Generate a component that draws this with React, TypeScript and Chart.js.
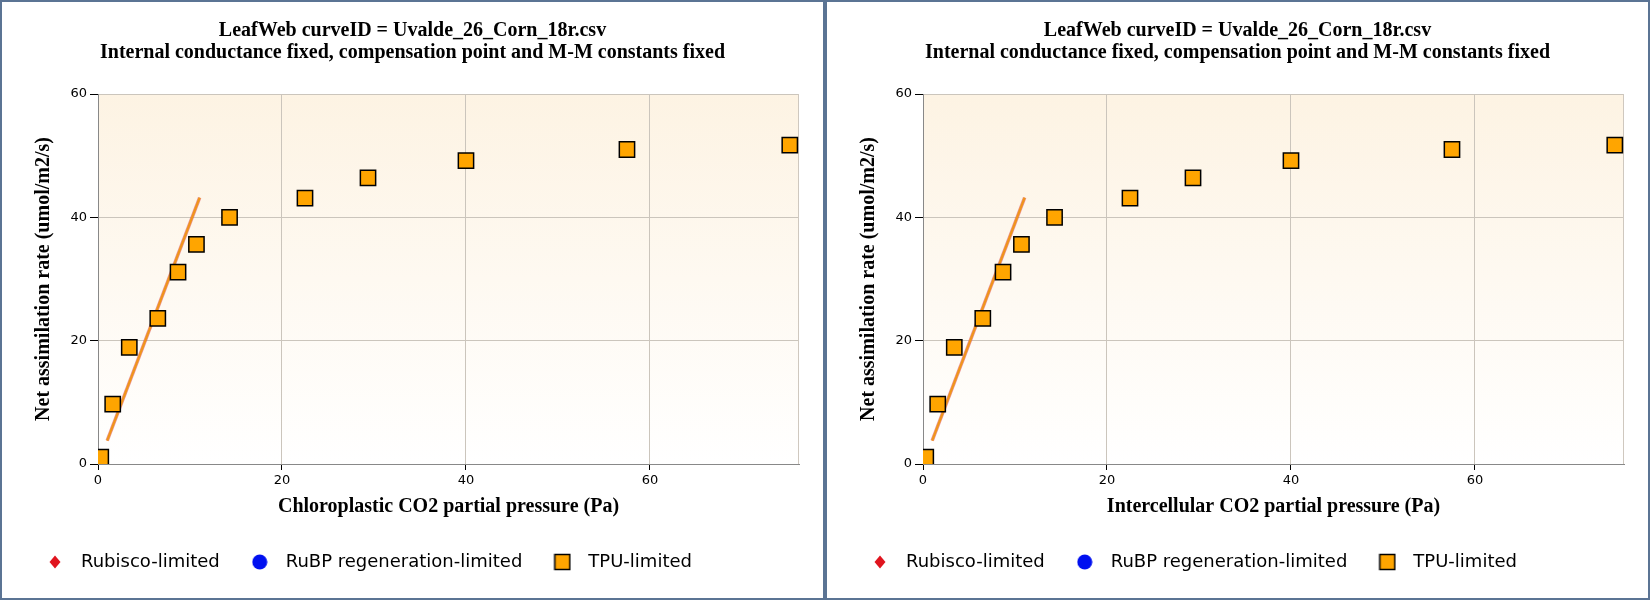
import React, { useEffect, useRef } from 'react';
import { Chart, registerables, ChartConfiguration, Plugin } from 'chart.js';

Chart.register(...registerables);

// measured points (Ci / Cc in Pa, A in umol/m2/s)
const pressures = [0.3, 1.6, 3.4, 6.5, 8.7, 10.7, 14.3, 22.5, 29.35, 40.0, 57.5, 75.2];
const assimilation = [1.1, 9.7, 18.9, 23.6, 31.1, 35.6, 40.0, 43.1, 46.4, 49.2, 51.0, 51.7];

// fitted limitation line end points
const fitX = [1.0, 11.05];
const fitY = [3.8, 43.2];

const legendNames = ['Rubisco-limited', 'RuBP regeneration-limited', 'TPU-limited'];
const titleLines = [
  'LeafWeb curveID = Uvalde_26_Corn_18r.csv',
  'Internal conductance fixed, compensation point and M-M constants fixed',
];
const yTitle = 'Net assimilation rate (umol/m2/s)';
const xTitles = ['Chloroplastic CO2 partial pressure (Pa)', 'Intercellular CO2 partial pressure (Pa)'];

const SERIF = "'Liberation Serif', 'Times New Roman', serif";
const SANS = "'DejaVu Sans', Verdana, sans-serif";

function makeMarker(kind: 'diamond' | 'circle' | 'square'): HTMLCanvasElement {
  const c = document.createElement('canvas');
  const s = kind === 'diamond' ? 14 : kind === 'circle' ? 16 : 18;
  c.width = s;
  c.height = s;
  const ctx = c.getContext('2d')!;
  if (kind === 'diamond') {
    ctx.fillStyle = '#e0141e';
    ctx.beginPath();
    ctx.moveTo(7, 0.5);
    ctx.lineTo(12.5, 7);
    ctx.lineTo(7, 13.5);
    ctx.lineTo(1.5, 7);
    ctx.closePath();
    ctx.fill();
  } else if (kind === 'circle') {
    ctx.fillStyle = '#0010f0';
    ctx.beginPath();
    ctx.arc(8, 8, 7.5, 0, Math.PI * 2);
    ctx.fill();
  } else {
    ctx.fillStyle = '#ffa500';
    ctx.strokeStyle = '#000';
    ctx.lineWidth = 1.5;
    ctx.fillRect(1.5, 1.5, 15, 15);
    ctx.strokeRect(1.5, 1.5, 15, 15);
  }
  return c;
}

const plotBackground: Plugin = {
  id: 'plotBackground',
  beforeDraw(chart) {
    const { ctx, chartArea } = chart;
    if (!chartArea) return;
    const g = ctx.createLinearGradient(0, chartArea.top, 0, chartArea.bottom);
    g.addColorStop(0, '#fdf3e3');
    g.addColorStop(1, '#ffffff');
    ctx.save();
    ctx.fillStyle = g;
    ctx.fillRect(chartArea.left, chartArea.top, chartArea.right - chartArea.left, chartArea.bottom - chartArea.top);
    ctx.restore();
  },
  beforeDatasetsDraw(chart) {
    const { ctx, chartArea } = chart;
    ctx.save();
    ctx.strokeStyle = '#cfc8bf';
    ctx.lineWidth = 1;
    ctx.beginPath();
    ctx.moveTo(chartArea.right - 0.5, chartArea.top);
    ctx.lineTo(chartArea.right - 0.5, chartArea.bottom);
    ctx.stroke();
    ctx.restore();
  },
};

// title centred on the whole canvas, legend starts a bit in from the edge
const nudge: Plugin = {
  id: 'nudge',
  afterLayout(chart: any) {
    if (chart.titleBlock) chart.titleBlock.right = chart.width;
    if (chart.legend) chart.legend.left += 13;
  },
};

const Panel: React.FC<{ xTitle: string }> = ({ xTitle }) => {
  const canvasRef = useRef<HTMLCanvasElement>(null);

  useEffect(() => {
    if (!canvasRef.current) return;
    const markers = [makeMarker('diamond'), makeMarker('circle'), makeMarker('square')];
    const points = pressures.map((x, i) => ({ x, y: assimilation[i] }));
    const fit = fitX.map((x, i) => ({ x, y: fitY[i] }));

    const config: ChartConfiguration<'scatter'> = {
      type: 'scatter',
      data: {
        datasets: [
          { label: legendNames[0], data: [], pointStyle: 'rectRot', backgroundColor: '#e0141e', order: 0 },
          { label: legendNames[1], data: [], pointStyle: 'circle', backgroundColor: '#0010f0', order: 0 },
          {
            label: legendNames[2],
            data: points,
            pointStyle: 'rect',
            pointRadius: 10.8,
            pointBackgroundColor: '#ffa500',
            pointBorderColor: '#000',
            pointBorderWidth: 1.5,
            order: 0,
          },
          {
            label: 'fit-under',
            data: fit,
            showLine: true,
            borderColor: 'rgba(220,80,80,0.6)',
            borderWidth: 3.5,
            pointRadius: 0,
            order: 2,
          },
          {
            label: 'fit',
            data: fit,
            showLine: true,
            borderColor: '#f0951a',
            borderWidth: 2.2,
            pointRadius: 0,
            order: 1,
          },
        ],
      },
      options: {
        responsive: false,
        animation: false,
        events: [],
        layout: { padding: { left: 0, right: 24, top: 0, bottom: 17 } },
        plugins: {
          title: {
            display: true,
            text: titleLines,
            color: '#000',
            font: { family: SERIF, size: 20, weight: 'bold', lineHeight: 1.1 },
            padding: { top: 18, bottom: 30 },
          },
          legend: {
            display: true,
            position: 'bottom',
            align: 'start',
            labels: {
              usePointStyle: true,
              pointStyleWidth: 34,
              padding: 23,
              color: '#000',
              font: { family: SANS, size: 18 },
              generateLabels: () =>
                legendNames.map((text, i) => ({
                  text,
                  pointStyle: markers[i] as any,
                  fillStyle: 'transparent',
                  strokeStyle: 'transparent',
                  lineWidth: 0,
                  hidden: false,
                  datasetIndex: i,
                  fontColor: '#000',
                })),
            },
          },
          tooltip: { enabled: false },
        },
        scales: {
          x: {
            type: 'linear',
            min: 0,
            max: 76.2,
            ticks: { stepSize: 20, includeBounds: false, color: '#000', padding: 3, font: { family: SANS, size: 13 } },
            grid: { color: '#cbc5bc', tickColor: '#000', tickLength: 6 },
            border: { color: '#888' },
            title: {
              display: true,
              text: xTitle,
              color: '#000',
              font: { family: SERIF, size: 20, weight: 'bold' },
              padding: { top: 4, bottom: 11.3 },
            },
            afterFit: (s) => {
              s.height = 66;
            },
          },
          y: {
            type: 'linear',
            min: 0,
            max: 60,
            ticks: { stepSize: 20, color: '#000', padding: 3, font: { family: SANS, size: 13 } },
            grid: { color: '#cbc5bc', tickColor: '#000', tickLength: 8 },
            border: { color: '#888' },
            title: {
              display: true,
              text: yTitle,
              color: '#000',
              font: { family: SERIF, size: 20, weight: 'bold' },
              padding: { top: 29.8, bottom: 4 },
            },
            afterFit: (s) => {
              s.width = 96;
            },
          },
        },
      },
      plugins: [plotBackground, nudge],
    };

    const chart = new Chart(canvasRef.current, config);
    return () => {
      chart.destroy();
    };
  }, [xTitle]);

  return (
    <div
      style={{
        width: 825,
        height: 600,
        boxSizing: 'border-box',
        border: '2px solid #5b7494',
        background: '#fff',
      }}
    >
      <canvas ref={canvasRef} width={821} height={596} style={{ display: 'block' }} />
    </div>
  );
};

export default function App() {
  useEffect(() => {
    document.body.style.margin = '0';
  }, []);

  return (
    <div style={{ display: 'flex', width: 1650, height: 600 }}>
      {xTitles.map((t) => (
        <Panel key={t} xTitle={t} />
      ))}
    </div>
  );
}
